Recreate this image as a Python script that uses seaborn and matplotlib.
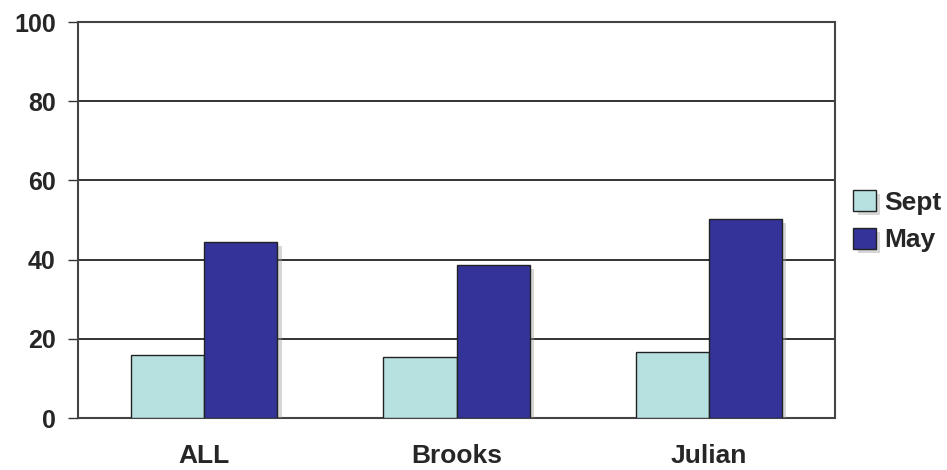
import matplotlib
matplotlib.use("Agg")
import matplotlib.pyplot as plt
import matplotlib.patheffects as pe
import seaborn as sns
import pandas as pd

categories = ["ALL", "Brooks", "Julian"]
sept = [16.0, 15.4, 16.7]
may = [44.4, 38.6, 50.3]
series = ["Sept", "May"]
yticks = [0, 20, 40, 60, 80, 100]

df = pd.DataFrame({
    "cat": categories * 2,
    "val": sept + may,
    "series": ["Sept"] * 3 + ["May"] * 3,
})

sns.set_style("white")
plt.rcParams["font.family"] = ["Liberation Sans", "DejaVu Sans"]

fig = plt.figure(figsize=(9.47, 4.70), dpi=100)
ax = fig.add_axes([78/947, 1-418/470, (835-78)/947, (418-22)/470])

palette = {"Sept": "#b7e1e1", "May": "#333399"}
sns.barplot(data=df, x="cat", y="val", hue="series", order=categories,
            hue_order=series, palette=palette, width=0.58, gap=0,
            edgecolor="#222222", linewidth=1.0, saturation=1, ax=ax, zorder=3)

for p in ax.patches:
    p.set_path_effects([pe.SimplePatchShadow(offset=(3, -3), shadow_rgbFace="#9a9a9a", alpha=0.4), pe.Normal()])

ax.set_xlim(-0.5, 2.5)
ax.set_ylim(0, 100)
ax.set_yticks(yticks)
ax.set_yticklabels([str(t) for t in yticks], fontsize=18, fontweight="bold")
ax.set_xticks(range(len(categories)))
ax.set_xticklabels(categories, fontsize=19, fontweight="bold")
ax.tick_params(axis="x", which="major", length=0, pad=19)
ax.set_xticks([0.5, 1.5, 2.5], minor=True)
ax.tick_params(axis="x", which="minor", length=6, width=1, color="#333333", direction="out")
ax.tick_params(axis="y", length=7, width=1, color="#333333", direction="out", pad=9, left=True)
ax.set_xlabel("")
ax.set_ylabel("")
ax.yaxis.grid(True, color="#111111", linewidth=1.2, zorder=0)
ax.set_axisbelow(True)
for s in ax.spines.values():
    s.set_color("#444444")
    s.set_linewidth(1.5)

leg = ax.legend(loc="center left", bbox_to_anchor=(1.0, 0.497), frameon=False,
                prop={"size": 19, "weight": "bold"}, handlelength=0.85, handleheight=0.85,
                handletextpad=0.3, labelspacing=0.5, borderaxespad=0.3)

fig.savefig("out.png", dpi=100)
